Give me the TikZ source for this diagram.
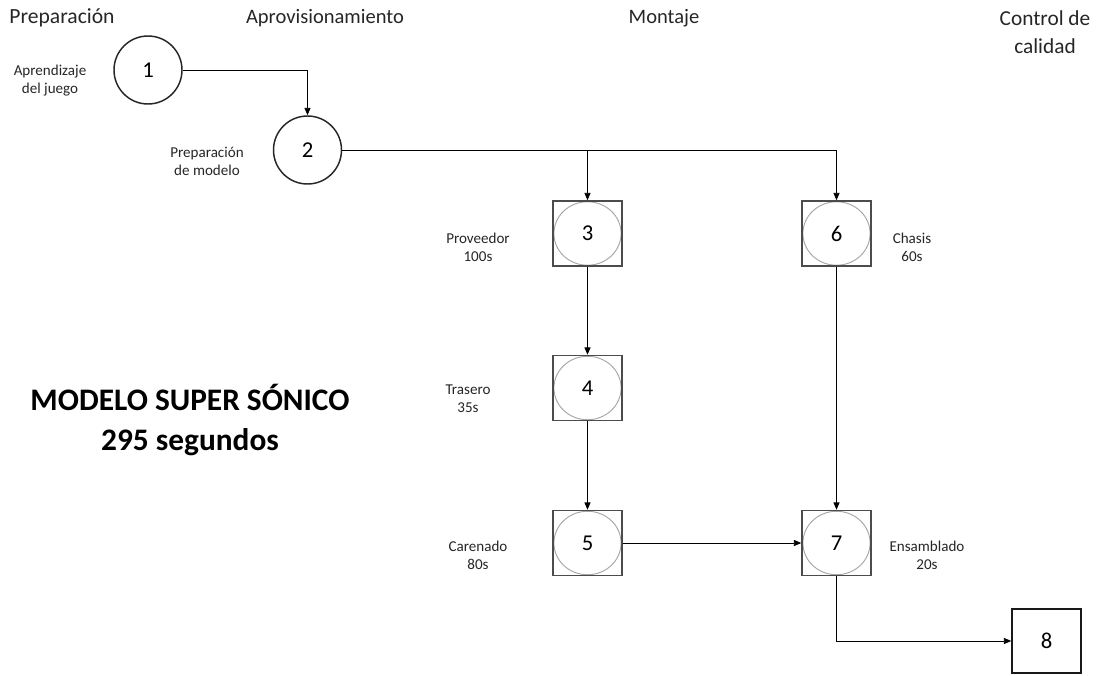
\documentclass[tikz,border=0pt]{standalone}
\usepackage{fontspec}
\setmainfont{Carlito}
\usetikzlibrary{arrows.meta}
\begin{document}
\begin{tikzpicture}[x=0.75pt,y=-0.75pt,
  circnode/.style={circle, draw=black!85, line width=1.1pt, minimum size=51pt, inner sep=0pt, font=\fontsize{17}{18}\selectfont},
  sqnode/.style={draw=black!70, line width=1.1pt, minimum width=51.75pt, minimum height=48.75pt, inner sep=0pt, font=\fontsize{17}{18}\selectfont,
    path picture={\draw[black!35, line width=0.7pt] (path picture bounding box.center) ellipse (25.2pt and 23.8pt);}},
  boxnode/.style={draw=black!90, line width=1.1pt, minimum width=51.75pt, minimum height=48pt, inner sep=0pt, font=\fontsize{17}{18}\selectfont},
  lbl/.style={align=center, font=\fontsize{11.3}{13.5}\selectfont, text=black!85},
  hdr/.style={align=center, font=\fontsize{15.4}{21}\selectfont, text=black!85},
  arr/.style={-{Triangle[length=5.5pt,width=4.5pt]}, line width=0.6pt, black}
]
\useasboundingbox (0,0) rectangle (1099,675);

% headers
\node[hdr, font=\fontsize{16.2}{21}\selectfont] (hprep) at (62,18) {Preparación};
\node[hdr] (hapro) at (325,18) {Aprovisionamiento};
\node[hdr] (hmont) at (664,18) {Montaje};
\node[hdr, font=\fontsize{16}{21}\selectfont] (hcont) at (1045,32) {Control de\\calidad};

% nodes
\node[circnode] (n1) at (148,70) {1};
\node[circnode] (n2) at (307.5,150) {2};
\node[sqnode] (n3) at (587.5,233.5) {3};
\node[sqnode] (n6) at (836.5,233.5) {6};
\node[sqnode] (n4) at (587.5,388) {4};
\node[sqnode] (n5) at (587.5,543) {5};
\node[sqnode] (n7) at (836.5,543) {7};
\node[boxnode] (n8) at (1046.5,641) {8};

% labels
\node[lbl] (l1) at (50,81) {Aprendizaje\\del juego};
\node[lbl] (l2) at (207,161) {Preparación\\de modelo};
\node[lbl] (l3) at (478,247) {Proveedor\\100s};
\node[lbl] (l6) at (912,247) {Chasis\\60s};
\node[lbl] (l4) at (468,399) {Trasero\\35s};
\node[lbl] (l5) at (478,555) {Carenado\\80s};
\node[lbl] (l7) at (927,555) {Ensamblado\\20s};

% title
\node[align=center, font=\bfseries\fontsize{23.5}{30}\selectfont] (title) at (190,420) {MODELO SUPER SÓNICO\\295 segundos};

% connectors
\draw[arr] (n1.east) -| (n2.north);
\draw[arr] (n2.east) -| (n6.north);
\draw[arr] (n2.east -| n3.north) -- (n3.north);
\draw[arr] (n3.south) -- (n4.north);
\draw[arr] (n4.south) -- (n5.north);
\draw[arr] (n6.south) -- (n7.north);
\draw[arr] (n5.east) -- (n7.west);
\draw[arr] (n7.south) |- (n8.west);
\end{tikzpicture}
\end{document}
